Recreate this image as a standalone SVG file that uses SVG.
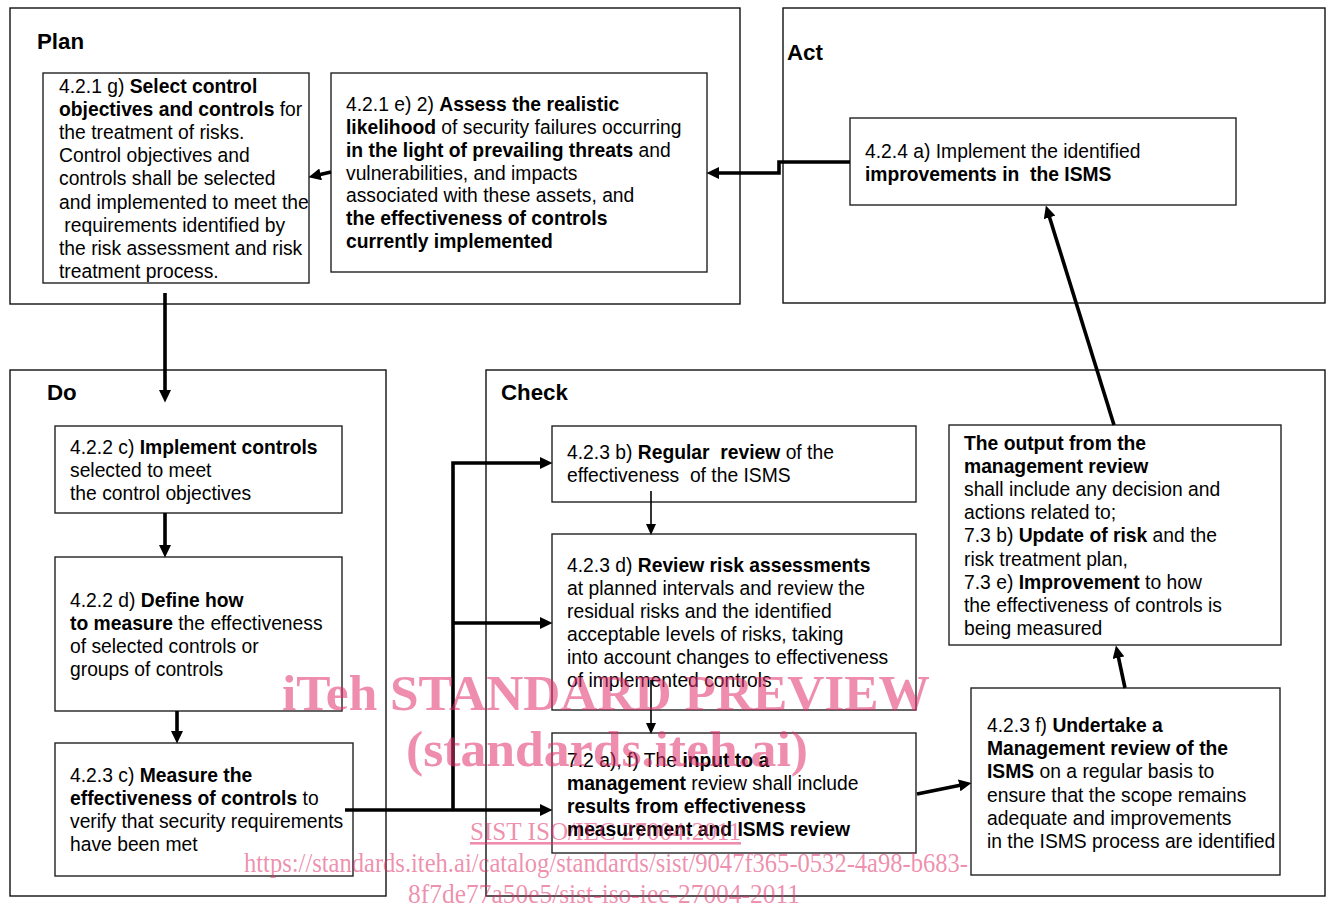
<svg xmlns="http://www.w3.org/2000/svg" width="1330" height="907" viewBox="0 0 1330 907">
<style>
.frame{fill:none;stroke:#111;stroke-width:1.4}
.box{fill:#fff;stroke:#222;stroke-width:1.4}
.t{font-family:"Liberation Sans",Arial,sans-serif;font-size:19.3px;fill:#000}
.title{font-family:"Liberation Sans",Arial,sans-serif;font-size:22.3px;font-weight:bold;fill:#000}
.b{font-weight:bold}
.thick{fill:none;stroke:#000;stroke-width:3.6}
.thin{fill:none;stroke:#000;stroke-width:1.6}
.wm{font-family:"Liberation Serif","Times New Roman",serif;fill:#e0306a;fill-opacity:0.55}
</style>
<defs>
<marker id="ah" markerUnits="userSpaceOnUse" markerWidth="13" markerHeight="12" refX="6" refY="6" orient="auto" viewBox="0 0 13 12">
<path d="M0,0 L12.5,6 L0,12 z" fill="#000"/>
</marker>
<marker id="aht" markerUnits="userSpaceOnUse" markerWidth="11" markerHeight="10" refX="5" refY="5" orient="auto" viewBox="0 0 11 10">
<path d="M0,0 L11,5 L0,10 z" fill="#000"/>
</marker>
</defs>
<rect width="1330" height="907" fill="#fff"/>

<g id="plan">
<rect class="frame" x="10" y="8" width="730" height="296"/>
<text class="title" x="37" y="49">Plan</text>
</g>
<g id="act">
<rect class="frame" x="783" y="8" width="542" height="295"/>
<text class="title" x="787" y="60">Act</text>
</g>
<g id="do">
<rect class="frame" x="10" y="370" width="376" height="526"/>
<text class="title" x="47" y="400">Do</text>
</g>
<g id="check">
<rect class="frame" x="486" y="370" width="839" height="526"/>
<text class="title" x="501" y="400">Check</text>
</g>

<g id="n421g">
<rect class="box" x="43" y="73" width="266" height="210"/>
<text class="t" xml:space="preserve"><tspan x="59" y="93">4.2.1 g) <tspan class="b">Select control</tspan></tspan><tspan x="59" y="116.1"><tspan class="b">objectives and controls</tspan> for</tspan><tspan x="59" y="139.2">the treatment of risks.</tspan><tspan x="59" y="162.3">Control objectives and</tspan><tspan x="59" y="185.4">controls shall be selected</tspan><tspan x="59" y="208.5">and implemented to meet the</tspan><tspan x="59" y="231.6"> requirements identified by</tspan><tspan x="59" y="254.7">the risk assessment and risk</tspan><tspan x="59" y="277.8">treatment process.</tspan></text>
</g>

<g id="n421e2">
<rect class="box" x="331" y="73" width="376" height="199"/>
<text class="t" xml:space="preserve"><tspan x="346" y="110.8">4.2.1 e) 2) <tspan class="b">Assess the realistic</tspan></tspan><tspan x="346" y="133.7"><tspan class="b">likelihood</tspan> of security failures occurring</tspan><tspan x="346" y="156.6"><tspan class="b">in the light of prevailing threats</tspan> and</tspan><tspan x="346" y="179.5">vulnerabilities, and impacts</tspan><tspan x="346" y="202.4">associated with these assets, and</tspan><tspan x="346" y="225.3" class="b">the effectiveness of controls</tspan><tspan x="346" y="248.2" class="b">currently implemented</tspan></text>
</g>

<g id="n424a">
<rect class="box" x="850" y="118" width="386" height="87"/>
<text class="t" xml:space="preserve"><tspan x="865" y="158">4.2.4 a) Implement the identified</tspan><tspan x="865" y="181" class="b">improvements in  the ISMS</tspan></text>
</g>

<g id="n422c">
<rect class="box" x="55" y="426" width="287" height="87"/>
<text class="t" xml:space="preserve"><tspan x="70" y="454">4.2.2 c) <tspan class="b">Implement controls</tspan></tspan><tspan x="70" y="477">selected to meet</tspan><tspan x="70" y="500">the control objectives</tspan></text>
</g>

<g id="n422d">
<rect class="box" x="55" y="557" width="287" height="154"/>
<text class="t" xml:space="preserve"><tspan x="70" y="607">4.2.2 d) <tspan class="b">Define how</tspan></tspan><tspan x="70" y="630"><tspan class="b">to measure</tspan> the effectiveness</tspan><tspan x="70" y="653">of selected controls or</tspan><tspan x="70" y="676">groups of controls</tspan></text>
</g>

<g id="n423c">
<rect class="box" x="55" y="743" width="298" height="133"/>
<text class="t" xml:space="preserve"><tspan x="70" y="782">4.2.3 c) <tspan class="b">Measure the</tspan></tspan><tspan x="70" y="805"><tspan class="b">effectiveness of controls</tspan> to</tspan><tspan x="70" y="828">verify that security requirements</tspan><tspan x="70" y="851">have been met</tspan></text>
</g>

<g id="n423b">
<rect class="box" x="552" y="426" width="364" height="76"/>
<text class="t" xml:space="preserve"><tspan x="567" y="459">4.2.3 b) <tspan class="b">Regular  review</tspan> of the</tspan><tspan x="567" y="482">effectiveness  of the ISMS</tspan></text>
</g>

<g id="n423d">
<rect class="box" x="552" y="534" width="364" height="176"/>
<text class="t" xml:space="preserve"><tspan x="567" y="572">4.2.3 d) <tspan class="b">Review risk assessments</tspan></tspan><tspan x="567" y="595">at planned intervals and review the</tspan><tspan x="567" y="618">residual risks and the identified</tspan><tspan x="567" y="641">acceptable levels of risks, taking</tspan><tspan x="567" y="664">into account changes to effectiveness</tspan><tspan x="567" y="687">of implemented controls</tspan></text>
</g>

<g id="n72">
<rect class="box" x="552" y="733" width="364" height="120"/>
<text class="t" xml:space="preserve"><tspan x="567" y="767">7.2 a), f) The <tspan class="b">input to a</tspan></tspan><tspan x="567" y="790"><tspan class="b">management</tspan> review shall include</tspan><tspan x="567" y="813" class="b">results from effectiveness</tspan><tspan x="567" y="836" class="b">measurement and ISMS review</tspan></text>
</g>

<g id="n423f">
<rect class="box" x="971" y="688" width="309" height="187"/>
<text class="t" xml:space="preserve"><tspan x="987" y="732">4.2.3 f) <tspan class="b">Undertake a</tspan></tspan><tspan x="987" y="755.2" class="b">Management review of the</tspan><tspan x="987" y="778.4"><tspan class="b">ISMS</tspan> on a regular basis to</tspan><tspan x="987" y="801.6">ensure that the scope remains</tspan><tspan x="987" y="824.8">adequate and improvements</tspan><tspan x="987" y="848">in the ISMS process are identified</tspan></text>
</g>

<g id="noutput">
<rect class="box" x="949" y="425" width="332" height="220"/>
<text class="t" xml:space="preserve"><tspan x="964" y="450" class="b">The output from the</tspan><tspan x="964" y="473.1" class="b">management review</tspan><tspan x="964" y="496.2">shall include any decision and</tspan><tspan x="964" y="519.3">actions related to;</tspan><tspan x="964" y="542.4">7.3 b) <tspan class="b">Update of risk</tspan> and the</tspan><tspan x="964" y="565.5">risk treatment plan,</tspan><tspan x="964" y="588.6">7.3 e) <tspan class="b">Improvement</tspan> to how</tspan><tspan x="964" y="611.7">the effectiveness of controls is</tspan><tspan x="964" y="634.8">being measured</tspan></text>
</g>

<g id="connectors">
<path class="thick" d="M850,162 H779 V173 H713" marker-end="url(#ah)"/>
<path class="thick" d="M331,172 L314.8,175.7" marker-end="url(#ah)"/>
<path class="thick" d="M165,293 V396" marker-end="url(#ah)"/>
<path class="thick" d="M165,513 V551" marker-end="url(#ah)"/>
<path class="thick" d="M177,711 V737" marker-end="url(#ah)"/>
<path class="thick" d="M345,810 H546" marker-end="url(#ah)"/>
<path class="thick" d="M453,810 V463 H546" marker-end="url(#ah)"/>
<path class="thick" d="M453,623 H546" marker-end="url(#ah)"/>
<path class="thin" d="M651,491 V529" marker-end="url(#aht)"/>
<path class="thin" d="M651,680 V728" marker-end="url(#aht)"/>
<path class="thick" d="M917,794 L965.1,784.2" marker-end="url(#ah)"/>
<path class="thick" d="M1125,688 L1117.3,651.9" marker-end="url(#ah)"/>
<path class="thick" d="M1114,425 L1047.8,211.7" marker-end="url(#ah)"/>
</g>

<g id="watermark">
<text class="wm" x="282" y="710" font-size="50" font-weight="bold" textLength="648" lengthAdjust="spacingAndGlyphs">iTeh STANDARD PREVIEW</text>
<text class="wm" x="406" y="766" font-size="50" font-weight="bold" textLength="402" lengthAdjust="spacingAndGlyphs">(standards.iteh.ai)</text>
<text class="wm" x="470" y="840" font-size="26" text-decoration="underline" textLength="271" lengthAdjust="spacingAndGlyphs">SIST ISO/IEC 27004:2011</text>
<text class="wm" x="244" y="872" font-size="28" textLength="724" lengthAdjust="spacingAndGlyphs">https://standards.iteh.ai/catalog/standards/sist/9047f365-0532-4a98-b683-</text>
<text class="wm" x="408" y="903" font-size="28" textLength="392" lengthAdjust="spacingAndGlyphs">8f7de77a50e5/sist-iso-iec-27004-2011</text>
</g>
</svg>
